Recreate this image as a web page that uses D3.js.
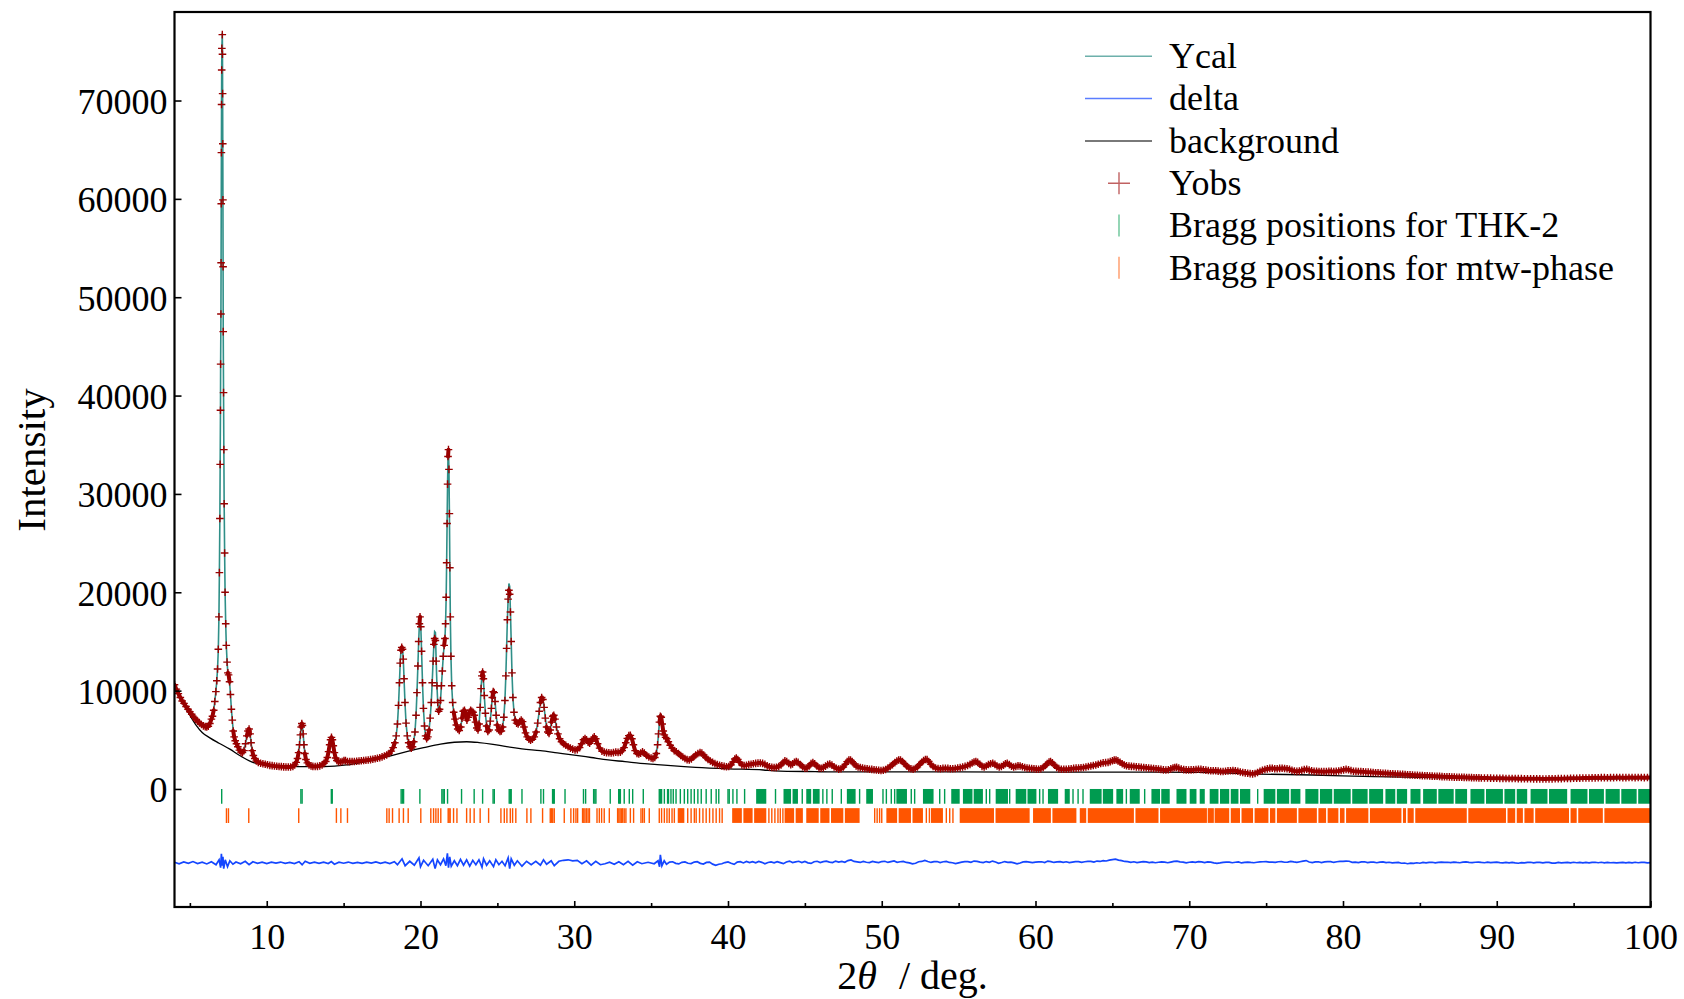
<!DOCTYPE html>
<html>
<head>
<meta charset="utf-8">
<script src="https://cdn.jsdelivr.net/npm/d3@7"></script>
<style>
  body { margin: 0; background: #fff; }
  text { font-family: "Liberation Serif", "Times New Roman", serif; }
</style>
</head>
<body>
<div id="wrapper"></div>
<script>
// ---- data ----
const xDomain = [4, 100]
const yDomain = [-12000, 79000]
const xTicks = [10, 20, 30, 40, 50, 60, 70, 80, 90, 100]
const xMinorTicks = [5, 15, 25, 35, 45, 55, 65, 75, 85, 95]
const yTicks = [0, 10000, 20000, 30000, 40000, 50000, 60000, 70000]

// observed pattern [2theta, counts]
const yobs = [
[4.0,10600],[4.12,10150],[4.25,9700],[4.38,9300],[4.5,8950],[4.62,8700],[4.75,8380],[4.88,8100],[5.0,7850],[5.12,7600],[5.25,7300],[5.38,7100],[5.5,6900],[5.62,6720],[5.75,6550],[5.88,6420],[6.0,6340],[6.1,6300],[6.2,6380],[6.3,6650],[6.4,7100],[6.47,7400],[6.55,8000],[6.62,8900],[6.69,9900],[6.75,11000],[6.8,12200],[6.85,14200],[6.89,17500],[6.92,22000],[6.95,27500],[6.97,33000],[6.99,38500],[7.0,43200],[7.02,48300],[7.03,53500],[7.04,59500],[7.05,64700],[7.06,69600],[7.07,73100],[7.08,75300],[7.11,76700],[7.12,74700],[7.13,70700],[7.14,65600],[7.15,59900],[7.16,53100],[7.17,46500],[7.19,40300],[7.21,34500],[7.23,29000],[7.26,24000],[7.29,20000],[7.33,16800],[7.37,14600],[7.42,12900],[7.47,11800],[7.52,11600],[7.58,10900],[7.64,9600],[7.7,8100],[7.76,7000],[7.82,5900],[7.88,5300],[7.95,4900],[8.03,4600],[8.12,4300],[8.22,3950],[8.32,3750],[8.42,3700],[8.52,3900],[8.62,4600],[8.7,5400],[8.78,5900],[8.85,6100],[8.92,5600],[8.98,4700],[9.05,3900],[9.13,3400],[9.22,3100],[9.32,2850],[9.45,2700],[9.6,2620],[9.75,2560],[9.9,2520],
[10.05,2460],[10.2,2400],[10.35,2370],[10.5,2330],[10.65,2310],[10.8,2290],[10.95,2270],[11.1,2250],[11.25,2240],[11.4,2230],[11.55,2240],[11.7,2300],[11.82,2450],[11.92,2700],[12.0,3100],[12.07,3700],[12.13,4500],[12.19,5500],[12.24,6300],[12.28,6650],[12.32,6450],[12.37,5600],[12.42,4500],[12.48,3600],[12.55,3000],[12.64,2650],[12.75,2450],[12.88,2350],[13.0,2300],[13.15,2280],[13.3,2300],[13.45,2350],[13.6,2450],[13.72,2600],[13.84,2800],[13.94,3200],[14.02,3800],[14.09,4500],[14.15,5000],[14.21,5250],[14.27,5000],[14.33,4400],[14.4,3700],[14.48,3150],[14.56,2900],[14.66,2780],[14.78,2750],[14.9,2800],[15.02,2900],[15.12,2880],[15.25,2800],[15.4,2780],[15.55,2790],[15.7,2800],[15.85,2820],[16.0,2850],[16.15,2870],[16.3,2900],[16.45,2920],[16.6,2950],[16.75,2980],[16.9,3020],[17.05,3070],[17.2,3120],[17.35,3180],[17.5,3260],[17.65,3350],[17.8,3450],[17.95,3600],[18.1,3850],[18.22,4200],[18.33,4700],[18.42,5400],[18.5,6600],[18.57,8500],[18.63,10800],[18.68,12800],[18.73,14100],[18.78,14400],[18.83,14200],[18.88,13200],[18.93,11200],[18.99,8800],[19.06,6700],[19.14,5400],[19.23,4700],[19.32,4300],[19.4,4150],[19.48,4300],[19.56,4800],[19.64,5800],[19.71,7500],[19.77,9800],[19.83,12500],[19.88,15000],[19.93,16800],[19.97,17500],
[20.02,16500],[20.07,14000],[20.13,10800],[20.19,8200],[20.26,6400],[20.33,5400],[20.4,5100],[20.48,5300],[20.56,6000],[20.63,7200],[20.7,8800],[20.76,10800],[20.82,13000],[20.87,14700],[20.92,15300],[20.97,15100],[21.02,13000],[21.07,10500],[21.12,8800],[21.18,7900],[21.24,8100],[21.3,9000],[21.36,10500],[21.42,12000],[21.48,13500],[21.54,14600],[21.59,15300],[21.63,16800],[21.67,19500],[21.7,23000],[21.73,27000],[21.76,31000],[21.79,33800],[21.82,34500],[21.85,32500],[21.88,28000],[21.91,22500],[21.94,17500],[21.98,13500],[22.03,10500],[22.09,8800],[22.16,7800],[22.24,7100],[22.33,6500],[22.42,6100],[22.52,5950],[22.62,6300],[22.7,7200],[22.78,7900],[22.86,8000],[22.94,7600],[23.02,7000],[23.1,7300],[23.18,7800],[23.26,8000],[23.34,7900],[23.42,7800],[23.5,7500],[23.58,6800],[23.66,6200],[23.74,6000],[23.81,6600],[23.88,8300],[23.94,10200],[23.99,11500],[24.04,11900],[24.09,11200],[24.15,9500],[24.22,7700],[24.3,6400],[24.38,5850],[24.46,6000],[24.54,6900],[24.61,8200],[24.67,9300],[24.73,9900],[24.79,9800],[24.85,8900],[24.92,7500],[25.0,6500],[25.08,6000],[25.17,5850],[25.26,5900],[25.34,6300],[25.42,7300],[25.49,9000],[25.55,11500],[25.6,14300],[25.65,17200],[25.7,19300],[25.75,20200],[25.8,19800],[25.85,18000],[25.9,15000],[25.95,11800],
[26.01,9300],[26.08,7800],[26.16,7000],[26.25,6700],[26.35,6600],[26.45,6850],[26.55,7000],[26.64,6850],[26.73,6300],[26.83,5700],[26.94,5300],[27.05,5050],[27.16,4950],[27.28,5050],[27.4,5300],[27.52,5800],[27.62,6700],[27.72,7900],[27.8,8800],[27.88,9300],[27.96,9100],[28.04,8300],[28.12,7200],[28.2,6300],[28.28,5800],[28.36,5650],[28.44,6000],[28.52,6800],[28.6,7400],[28.67,7500],[28.75,7100],[28.84,6300],[28.94,5600],[29.05,5100],[29.17,4800],[29.3,4600],[29.45,4450],[29.6,4300],[29.75,4150],[29.9,4050],[30.05,3980],[30.2,4000],[30.35,4200],[30.48,4600],[30.6,5000],[30.7,5130],[30.8,5000],[30.9,4750],[31.0,4650],[31.1,4850],[31.2,5150],[31.3,5300],[31.4,5100],[31.52,4600],[31.65,4150],[31.8,3850],[31.95,3750],[32.1,3700],[32.25,3680],[32.4,3660],[32.55,3700],[32.7,3750],[32.85,3720],[33.0,3750],[33.12,3900],[33.24,4200],[33.35,4700],[33.45,5150],[33.55,5420],[33.65,5450],[33.75,5100],[33.85,4500],[33.96,3900],[34.08,3600],[34.2,3550],[34.32,3650],[34.44,3780],[34.56,3650],[34.7,3400],[34.85,3250],[35.0,3150],[35.12,3100],[35.24,3200],[35.34,3600],[35.42,4500],[35.48,5600],[35.54,6800],[35.6,7400],[35.66,7300],[35.72,6600],[35.79,5900],[35.86,5500],[35.94,5250],
[36.02,5100],[36.12,4800],[36.24,4450],[36.36,4150],[36.5,3900],[36.64,3780],[36.78,3600],[36.92,3400],[37.06,3250],[37.2,3100],[37.34,2980],[37.48,2950],[37.62,3050],[37.76,3250],[37.9,3450],[38.04,3600],[38.18,3700],[38.3,3650],[38.42,3450],[38.56,3200],[38.7,3000],[38.85,2850],[39.0,2700],[39.15,2580],[39.3,2480],[39.45,2420],[39.6,2350],[39.75,2300],[39.9,2260],[40.05,2280],[40.2,2450],[40.33,2750],[40.44,3050],[40.54,3150],[40.64,3000],[40.76,2700],[40.9,2450],[41.05,2380],[41.2,2420],[41.35,2480],[41.5,2520],[41.65,2560],[41.8,2600],[41.95,2630],[42.1,2640],[42.25,2600],[42.4,2500],[42.55,2350],[42.7,2250],[42.85,2200],[43.0,2180],[43.15,2200],[43.3,2280],[43.45,2450],[43.58,2680],[43.7,2860],[43.82,2800],[43.95,2600],[44.08,2470],[44.2,2550],[44.32,2720],[44.44,2780],[44.56,2700],[44.7,2480],[44.85,2270],[45.0,2120],[45.14,2150],[45.28,2350],[45.4,2580],[45.52,2690],[45.64,2560],[45.78,2330],[45.92,2150],[46.06,2100],[46.2,2170],[46.34,2320],[46.48,2480],[46.62,2540],[46.76,2430],[46.9,2250],[47.05,2100],[47.2,2020],[47.35,2050],[47.5,2230],[47.63,2500],[47.75,2780],[47.86,2930],[47.97,2950],[48.08,2780],[48.2,2550],[48.33,2350],[48.46,2230],[48.6,2180],[48.75,2120],[48.9,2080],
[49.05,2050],[49.2,2010],[49.35,1990],[49.5,1960],[49.65,1930],[49.8,1900],[49.95,1880],[50.1,1900],[50.25,1980],[50.4,2120],[50.55,2300],[50.7,2480],[50.85,2680],[50.98,2850],[51.1,2940],[51.22,2950],[51.35,2800],[51.48,2560],[51.62,2330],[51.76,2150],[51.9,2050],[52.04,2010],[52.18,2080],[52.32,2250],[52.46,2480],[52.6,2720],[52.72,2900],[52.84,3000],[52.95,2980],[53.06,2800],[53.2,2500],[53.34,2280],[53.5,2140],[53.66,2080],[53.82,2060],[53.98,2090],[54.14,2110],[54.3,2090],[54.46,2060],[54.62,2050],[54.78,2080],[54.94,2130],[55.1,2170],[55.26,2230],[55.42,2300],[55.58,2380],[55.74,2500],[55.88,2640],[56.0,2740],[56.12,2790],[56.24,2700],[56.38,2520],[56.52,2300],[56.66,2230],[56.8,2340],[56.94,2490],[57.08,2570],[57.22,2610],[57.36,2500],[57.5,2330],[57.64,2230],[57.78,2280],[57.92,2430],[58.04,2560],[58.16,2610],[58.3,2480],[58.44,2310],[58.58,2230],[58.72,2280],[58.86,2350],[59.0,2340],[59.15,2260],[59.3,2190],[59.45,2140],[59.6,2100],[59.75,2080],[59.9,2050],[60.05,2020],[60.2,2000],[60.35,2050],[60.5,2180],[60.64,2380],[60.76,2580],[60.88,2740],[60.98,2790],[61.1,2650],[61.24,2420],[61.38,2200],[61.52,2070],[61.68,2010],[61.84,2000],
[62.0,2010],[62.16,2030],[62.32,2060],[62.48,2090],[62.64,2120],[62.8,2130],[62.96,2160],[63.12,2190],[63.28,2240],[63.44,2290],[63.6,2340],[63.76,2390],[63.92,2440],[64.08,2510],[64.24,2590],[64.4,2650],[64.56,2680],[64.72,2700],[64.86,2780],[65.0,2870],[65.12,2930],[65.24,2950],[65.36,2860],[65.5,2720],[65.64,2560],[65.78,2440],[65.92,2360],[66.08,2320],[66.24,2300],[66.4,2280],[66.56,2250],[66.72,2230],[66.88,2200],[67.04,2180],[67.2,2160],[67.36,2130],[67.52,2110],[67.68,2080],[67.84,2060],[68.0,2030],[68.16,1990],[68.32,1940],[68.48,1930],[68.64,1960],[68.8,2040],[68.94,2130],[69.06,2190],[69.18,2200],[69.32,2120],[69.48,2030],[69.64,1970],[69.8,1940],[69.96,1930],[70.12,1940],[70.28,1960],[70.44,1980],[70.6,2000],[70.76,1990],[70.92,1950],[71.08,1920],[71.24,1880],[71.4,1860],[71.56,1850],[71.72,1850],[71.88,1820],[72.04,1780],[72.2,1770],[72.36,1800],[72.52,1840],[72.68,1850],[72.84,1870],[73.0,1850],[73.16,1800],[73.32,1730],[73.48,1680],[73.64,1640],[73.8,1600],[73.96,1560],[74.12,1540],[74.28,1580],[74.44,1680],[74.6,1800],[74.76,1900],[74.92,1980],[75.08,2040],[75.24,2090],[75.4,2100],[75.56,2060],[75.72,2050],[75.88,2090],[76.04,2100],[76.2,2080],[76.36,2060],[76.52,2000],[76.68,1900],[76.84,1830],[77.0,1790],[77.16,1820],[77.32,1900],[77.48,1970],[77.64,2000],[77.8,1920],[77.96,1850],
[78.12,1810],[78.28,1790],[78.44,1780],[78.6,1770],[78.76,1760],[78.92,1770],[79.08,1790],[79.24,1790],[79.4,1770],[79.56,1790],[79.72,1830],[79.88,1880],[80.04,1940],[80.2,1990],[80.36,1960],[80.52,1870],[80.68,1810],[80.84,1790],[81.0,1770],[81.16,1760],[81.32,1740],[81.48,1720],[81.64,1710],[81.8,1690],[81.96,1670],[82.12,1650],[82.28,1640],[82.44,1620],[82.6,1600],[82.76,1590],[82.92,1570],[83.08,1550],[83.24,1540],[83.4,1520],[83.56,1510],[83.72,1500],[83.88,1480],[84.04,1460],[84.2,1450],[84.36,1430],[84.52,1420],[84.68,1400],[84.84,1390],[85.0,1370],[85.16,1360],[85.32,1350],[85.48,1340],[85.64,1320],[85.8,1310],[85.96,1300],[86.12,1290],[86.28,1280],[86.44,1260],[86.6,1250],[86.76,1240],[86.92,1230],[87.08,1220],[87.24,1210],[87.4,1200],[87.56,1190],[87.72,1190],[87.88,1180],[88.04,1170],[88.2,1160],[88.36,1150],[88.52,1140],[88.68,1140],[88.84,1130],[89.0,1120],[89.2,1110],[89.4,1110],[89.6,1100],[89.8,1090],[90.0,1090],[90.2,1080],[90.4,1080],[90.6,1070],[90.8,1070],[91.0,1060],[91.2,1060],[91.4,1050],[91.6,1050],[91.8,1040],[92.0,1040],[92.2,1040],[92.4,1030],[92.6,1030],[92.8,1030],[93.0,1020],[93.2,1020],[93.4,1030],[93.6,1030],[93.8,1040],[94.0,1050],[94.2,1050],[94.4,1060],[94.6,1070],[94.8,1080],[95.0,1090],[95.2,1090],[95.4,1100],[95.6,1110],[95.8,1110],[96.0,1120],[96.2,1130],[96.4,1130],[96.6,1140],[96.8,1150],[97.0,1150],[97.2,1140],[97.4,1150],[97.6,1150],[97.8,1160],[98.0,1160],[98.2,1150],[98.4,1150],[98.6,1160],[98.8,1160],[99.0,1150],[99.2,1160],[99.4,1160],[99.6,1150],[99.8,1160],[100.0,1160]
]

// calculated curve where it departs visibly from the observed points
const ycalPeaks = [[7.11,76900],[19.97,17700],[20.92,16000],[20.97,15900],[21.82,34300],[25.75,20900],[25.8,20600],[35.6,7600]]

// refined background [2theta, counts]
const background = [
[4.0,10450],[4.5,8900],[5.0,7500],[5.4,6500],[5.8,5750],[6.3,5200],[6.9,4650],[7.6,4050],[8.3,3350],[9.2,2650],[10.5,2350],[12.0,2280],[13.7,2270],[15.2,2440],[16.0,2650],[17.0,2950],[18.0,3350],[19.1,3790],[20.2,4200],[21.3,4570],[22.2,4750],[23.0,4800],[23.8,4720],[24.6,4570],[25.6,4300],[26.6,4080],[27.8,3890],[28.9,3670],[30.0,3450],[31.1,3200],[32.2,2950],[33.3,2780],[34.3,2610],[35.4,2480],[36.5,2340],[37.9,2200],[40.0,2050],[42.3,1930],[43.0,1850],[45.7,1760],[46.5,1740],[50.0,1740],[55.0,1730],[60.0,1720],[65.0,1710],[70.5,1690],[74.5,1520],[78.0,1420],[82.0,1250],[86.0,1150],[90.0,1000],[95.0,1000],[100.0,1050]
]

// difference Yobs - Ycal [2theta, counts]
const delta = [
[4.0,50],[4.3,-100],[4.6,80],[4.9,-60],[5.2,120],[5.5,-80],[5.8,60],[6.1,-120],[6.4,100],[6.7,-200],[6.9,300],[7.0,-500],[7.05,900],[7.1,-300],[7.15,600],[7.2,-600],[7.3,300],[7.45,-400],[7.6,200],[7.8,-150],[8.0,80],[8.3,-100],[8.6,150],[8.85,-200],[9.1,100],[9.4,-60],[9.7,50],[10.0,-80],[10.3,60],[10.6,-40],[10.9,70],[11.2,-60],[11.5,40],[11.8,-80],[12.1,100],[12.3,-200],[12.5,150],[12.8,-60],[13.1,50],[13.4,-70],[13.7,60],[14.0,-80],[14.2,120],[14.4,-150],[14.7,60],[15.0,-50],[15.3,70],[15.6,-60],[15.9,40],[16.2,-70],[16.5,60],[16.8,-40],[17.1,80],[17.4,-60],[17.7,50],[18.0,-80],[18.3,100],[18.5,-200],[18.8,400],[19.0,-300],[19.3,150],[19.6,-250],[19.9,500],[20.0,-400],[20.2,250],[20.5,-300],[20.8,350],[20.95,-600],[21.1,300],[21.3,-200],[21.5,400],[21.65,-300],[21.75,950],[21.82,-500],[21.9,600],[22.0,-350],[22.2,200],[22.4,-300],[22.6,350],[22.8,-250],[23.0,300],[23.2,-350],[23.4,250],[23.6,-200],[23.8,300],[24.0,-450],[24.1,400],[24.3,-250],[24.5,200],[24.75,-400],[24.9,300],[25.1,-200],[25.3,150],[25.5,-300],[25.7,500],[25.8,-600],[25.9,400],[26.1,-250],[26.3,200],[26.6,-350],[26.9,150],[27.2,-200],[27.5,150],[27.8,-250],[28.0,300],[28.2,-150],[28.5,200],[28.7,-300],[29.0,150],[29.3,250],[29.6,300],[29.9,200],[30.2,250],[30.5,-100],[30.8,200],[31.1,-250],[31.4,150],[31.7,-200],[32.0,-100],[32.3,50],[32.6,-150],[32.9,100],[33.2,-200],[33.5,150],[33.8,-250],[34.1,100],[34.4,-100],[34.8,50],[35.2,-100],[35.45,200],[35.55,-400],[35.6,800],[35.7,-300],[35.85,200],[36.0,-150],
[36.2,60],[36.4,100],[36.6,-60],[36.8,-120],[37.0,40],[37.2,90],[37.4,-50],[37.6,-80],[37.8,70],[38.0,110],[38.2,-60],[38.4,-130],[38.6,30],[38.8,60],[39.0,-140],[39.2,-260],[39.4,-150],[39.6,-100],[39.8,20],[40.0,80],[40.2,-60],[40.4,-170],[40.6,60],[40.8,110],[41.0,-20],[41.2,130],[41.4,20],[41.6,110],[41.8,-10],[42.0,140],[42.2,40],[42.4,-110],[42.6,20],[42.8,90],[43.0,-10],[43.2,110],[43.4,10],[43.6,-90],[43.8,80],[44.0,170],[44.2,20],[44.4,90],[44.6,150],[44.8,10],[45.0,130],[45.2,-10],[45.4,-70],[45.6,100],[45.8,150],[46.0,20],[46.2,110],[46.4,160],[46.6,60],[46.8,20],[47.0,170],[47.2,70],[47.4,140],[47.6,40],[47.8,220],[48.0,290],[48.2,130],[48.4,90],[48.6,30],[48.8,140],[49.0,50],[49.2,20],[49.4,130],[49.6,70],[49.8,10],[50.0,120],[50.2,150],[50.4,30],[50.6,110],[50.8,180],[51.0,50],[51.2,100],[51.4,140],[51.6,30],[51.8,-10],[52.0,-120],[52.2,-50],[52.4,100],[52.6,130],[52.8,230],[53.0,120],[53.2,30],[53.4,110],[53.6,120],[53.8,20],[54.0,100],[54.2,130],[54.4,30],[54.6,0],[54.8,-90],[55.0,-10],[55.2,70],[55.4,110],[55.6,120],[55.8,40],[56.0,170],[56.2,130],[56.4,60],[56.6,20],[56.8,120],[57.0,50],[57.2,170],[57.4,80],[57.6,-60],[57.8,20],[58.0,120],[58.2,40],[58.4,70],[58.6,-10],[58.8,-110],[59.0,-30],[59.2,80],[59.4,110],[59.6,60],[59.8,10],[60.0,70],[60.2,90],[60.4,100],[60.6,20],[60.8,170],[61.0,120],[61.2,30],[61.4,90],[61.6,120],[61.8,40],[62.0,100],[62.2,20],[62.4,70],[62.6,110],[62.8,120],[63.0,40],[63.2,100],[63.4,130],[63.6,140],[63.8,60],[64.0,170],[64.2,130],[64.4,220],[64.6,180],[64.8,270],[65.0,320],[65.2,370],[65.4,270],[65.6,210],[65.8,130],[66.0,110],[66.2,40],[66.4,100],[66.6,20],[66.8,70],[67.0,110],[67.2,90],[67.4,10],[67.6,70],[67.8,0],[68.0,50],[68.2,90],[68.4,70],[68.6,0],[68.8,70],[69.0,140],[69.2,170],[69.4,90],[69.6,60],[69.8,-10],[70.0,50],[70.2,80],[70.4,40],[70.6,110],[70.8,90],[71.0,10],[71.2,80],[71.4,60],[71.6,-10],[71.8,-60],[72.0,-20],[72.2,40],[72.4,60],[72.6,70],[72.8,0],[73.0,50],[73.2,80],[73.4,-20],[73.6,40],[73.8,70],[74.0,30],[74.2,0],[74.4,50],[74.6,80],[74.8,100],[75.0,120],[75.2,60],[75.4,70],[75.6,30],[75.8,100],[76.0,110],[76.2,50],[76.4,70],[76.6,140],[76.8,80],[77.0,30],[77.2,100],[77.4,170],[77.6,220],[77.8,80],[78.0,10],[78.2,80],[78.4,100],[78.6,20],[78.8,80],[79.0,110],[79.2,120],[79.4,30],[79.6,100],[79.8,130],[80.0,140],[80.2,170],[80.4,150],[80.6,40],[80.8,70],[81.0,20],[81.2,90],[81.4,100],[81.6,10],[81.8,70],[82.0,60],[82.2,0],[82.4,70],[82.6,80],[82.8,10],[83.0,50],[83.2,-10],[83.4,20],[83.6,40],[83.8,-50],[84.0,-30],[84.2,-100],[84.4,-40],[84.6,-70],[84.8,0],[85.0,-50],[85.2,30],[85.4,-20],[85.6,40],[85.8,50],[86.0,-10],[86.2,40],[86.4,70],[86.6,40],[86.8,50],[87.0,10],[87.2,70],[87.4,30],[87.6,0],[87.8,60],[88.0,80],[88.2,40],[88.4,10],[88.6,50],[88.8,70],[89.0,30],[89.2,0],[89.4,60],[89.6,10],[89.8,40],[90.0,60],[90.2,10],[90.4,-20],[90.6,30],[90.8,-20],[91.0,40],[91.2,-10],[91.4,-50],[91.6,10],[91.8,-20],[92.0,40],[92.2,50],[92.4,-10],[92.6,30],[92.8,40],[93.0,-20],[93.2,30],[93.4,40],[93.6,-30],[93.8,-40],[94.0,30],[94.2,-10],[94.4,20],[94.6,40],[94.8,-20],[95.0,50],[95.2,0],[95.4,40],[95.6,-20],[95.8,30],[96.0,-20],[96.2,40],[96.4,50],[96.6,0],[96.8,50],[97.0,-10],[97.2,40],[97.4,0],[97.6,20],[97.8,-10],[98.0,20],[98.2,40],[98.4,-10],[98.6,40],[98.8,-10],[99.0,50],[99.2,0],[99.4,30],[99.6,40],[99.8,-10],[100.0,20]
]
const deltaOffset = -7500

// Bragg reflections: single positions and ranges where they merge
const thkTicks = [7.07,12.22,12.3,14.2,14.26,18.74,18.82,18.9,19.96,21.39,21.47,21.55,21.76,22.67,23.49,24.04,24.72,24.8,25.77,25.84,25.9,26.6,27.83,28.0,28.59,28.65,28.7,29.4,30.6,30.74,31.26,31.34,31.41,32.34,32.89,32.95,33.0,33.25,33.58,33.8,34.49,35.53,35.6,35.68,35.86,36.07,36.13,36.29,36.44,36.62,36.9,37.16,37.38,37.6,37.81,38.04,38.26,38.58,38.91,39.23,39.4,40.0,40.08,40.32,40.58,41.08,43.09,44.83,46.17,46.43,46.78,47.37,48.56,50.08,50.3,50.62,50.84,51.92,52.14,53.77,54.09,56.8,57.02,58.32,60.27,60.49,62.44,62.77,63.09,65.91,67.1,74.45]
const thkBands = [[41.83,42.49],[43.61,44.1],[44.2,44.55],[45.09,45.41],[45.52,45.96],[47.73,48.3],[48.99,49.43],[50.95,51.64],[52.68,53.37],[54.52,55.07],[55.28,55.9],[55.98,56.58],[57.41,58.21],[58.71,59.4],[59.48,60.06],[60.81,61.47],[61.9,62.23],[63.53,64.3],[64.38,65.05],[65.26,65.7],[66.13,66.78],[67.54,68.1],[68.18,68.73],[69.17,69.82],[70.03,70.47],[70.68,71.01],[71.33,71.9],[72.0,72.6],[72.7,73.2],[73.3,73.97],[74.84,75.6],[75.7,76.5],[76.6,77.23],[77.55,78.4],[78.5,79.3],[79.4,80.5],[80.6,81.6],[81.7,82.61],[82.76,83.4],[83.5,84.17],[84.39,85.04],[85.21,86.1],[86.2,87.2],[87.3,88.07],[88.29,89.2],[89.3,90.4],[90.5,91.2],[91.3,91.98],[92.2,93.3],[93.4,94.58],[94.8,95.9],[96.0,96.97],[97.08,98.0],[98.1,99.1],[99.2,100]]
const mtwTicks = [7.38,7.51,8.83,12.08,14.53,14.82,15.25,17.81,17.96,18.18,18.61,18.89,19.2,20.02,20.67,20.85,21.0,21.15,21.32,21.8,21.86,21.93,22.15,22.37,23.0,23.23,23.49,23.88,24.43,25.23,25.45,25.62,25.84,25.99,26.2,26.92,27.18,27.94,28.44,28.52,28.6,28.7,29.35,29.78,29.96,30.11,30.22,30.54,30.62,30.7,30.8,30.9,30.99,31.48,31.63,31.78,31.95,32.28,32.82,32.9,32.98,33.06,33.15,33.25,33.36,33.65,33.86,34.34,34.45,34.56,34.88,35.53,35.68,35.86,36.03,36.18,36.36,36.51,37.38,37.6,37.81,37.93,38.15,38.37,38.58,38.8,39.02,39.23,39.45,39.62,42.66,42.85,43.05,43.25,43.4,43.57,49.54,49.7,49.86,50.0,52.9,53.1,54.2,54.42,54.63]
const mtwBands = [[36.73,37.16],[40.27,40.9],[41.0,41.6],[41.7,42.49],[43.68,44.3],[44.4,44.87],[45.09,45.9],[46.0,46.6],[46.7,47.5],[47.6,48.56],[50.3,51.0],[51.1,51.9],[52.0,52.68],[53.2,53.98],[55.07,57.3],[57.4,59.62],[59.84,61.0],[61.1,62.66],[62.88,63.3],[63.4,66.4],[66.5,68.0],[68.1,71.15],[71.2,71.6],[71.65,72.6],[72.7,73.3],[73.4,74.15],[74.25,75.15],[75.25,75.6],[75.7,77.0],[77.1,78.3],[78.4,78.9],[79.0,79.7],[79.8,80.1],[80.2,81.65],[81.75,83.8],[83.9,84.1],[84.2,84.6],[84.7,88.05],[88.15,90.6],[90.7,91.2],[91.3,91.7],[91.8,92.4],[92.5,94.7],[94.8,95.2],[95.3,96.9],[97.0,100]]

const legendLabels = ["Ycal", "delta", "background", "Yobs", "Bragg positions for THK-2", "Bragg positions for mtw-phase"]

// ---- layout ----
const width = 1684, height = 999
const plot = {left: 174.5, right: 1650.5, top: 12, bottom: 907}
const thkRow = [0, -1500]
const mtwRow = [-1950, -3450]

const colors = {
    ycal: "#2f8f88",
    delta: "#1446ff",
    bg: "#000000",
    obs: "#990000",
    thk: "#009b50",
    mtw: "#ff5500"
}

const x = d3.scaleLinear().domain(xDomain).range([plot.left, plot.right])
const y = d3.scaleLinear().domain(yDomain).range([plot.bottom, plot.top])

const svg = d3.select("#wrapper").append("svg")
    .attr("width", width)
    .attr("height", height)
    .style("display", "block")
    .style("background", "#fff")

svg.append("clipPath").attr("id", "clip")
    .append("rect")
    .attr("x", plot.left).attr("y", plot.top)
    .attr("width", plot.right - plot.left).attr("height", plot.bottom - plot.top)

const area = svg.append("g").attr("clip-path", "url(#clip)")

const line = d3.line().x(d => x(d[0])).y(d => y(d[1]))

// background
area.append("path")
    .datum(background)
    .attr("d", d3.line().curve(d3.curveMonotoneX).x(d => x(d[0])).y(d => y(d[1])))
    .attr("fill", "none")
    .attr("stroke", colors.bg)
    .attr("stroke-width", 1.3)

// Ycal
const calcMap = new Map(ycalPeaks)
const ycal = yobs.map(d => [d[0], calcMap.has(d[0]) ? calcMap.get(d[0]) : d[1]])
area.append("path")
    .datum(ycal)
    .attr("d", line)
    .attr("fill", "none")
    .attr("stroke", colors.ycal)
    .attr("stroke-width", 1.6)

// Yobs: where crosses sit closer than their own size they merge into a band
let smear = ""
for (let i = 1; i < yobs.length; i++) {
    const x0 = x(yobs[i - 1][0]), y0 = y(yobs[i - 1][1])
    const x1 = x(yobs[i][0]), y1 = y(yobs[i][1])
    if (Math.hypot(x1 - x0, y1 - y0) < 7) smear += `M${x0},${y0}L${x1},${y1}`
}
area.append("path")
    .attr("d", smear)
    .attr("fill", "none")
    .attr("stroke", colors.obs)
    .attr("stroke-width", 4)
    .attr("stroke-linecap", "round")

const s = 3.8
area.append("g")
    .attr("stroke", colors.obs)
    .attr("stroke-width", 1.4)
    .attr("fill", "none")
    .selectAll("path")
    .data(yobs)
    .join("path")
    .attr("d", d => `M${x(d[0]) - s},${y(d[1])}h${2 * s}M${x(d[0])},${y(d[1]) - s}v${2 * s}`)

// delta
area.append("path")
    .datum(delta)
    .attr("d", d3.line().x(d => x(d[0])).y(d => y(deltaOffset + d[1])))
    .attr("fill", "none")
    .attr("stroke", colors.delta)
    .attr("stroke-width", 1.7)

// Bragg positions
function braggRow(ticks, bands, row, color) {
    const gr = area.append("g")
    gr.selectAll("line")
        .data(ticks)
        .join("line")
        .attr("x1", d => x(d)).attr("x2", d => x(d))
        .attr("y1", y(row[0])).attr("y2", y(row[1]))
        .attr("stroke", color)
        .attr("stroke-width", 1.4)
    gr.selectAll("rect")
        .data(bands)
        .join("rect")
        .attr("x", d => x(d[0]))
        .attr("width", d => x(d[1]) - x(d[0]))
        .attr("y", y(row[0]))
        .attr("height", y(row[1]) - y(row[0]))
        .attr("fill", color)
}
braggRow(thkTicks, thkBands, thkRow, colors.thk)
braggRow(mtwTicks, mtwBands, mtwRow, colors.mtw)

// axes
const fontFamily = '"Liberation Serif", "Times New Roman", serif'

const yAxis = svg.append("g")
    .attr("transform", `translate(${plot.left},0)`)
    .call(d3.axisLeft(y).tickValues(yTicks).tickSizeInner(-7).tickSizeOuter(0).tickPadding(7).tickFormat(d3.format("d")))
yAxis.select(".domain").remove()
yAxis.selectAll("line").attr("stroke", "#000").attr("stroke-width", 1.6)
yAxis.selectAll("text")
    .attr("font-family", fontFamily)
    .attr("font-size", 36)
    .attr("fill", "#000")
    .attr("dy", "0.36em")

const xAxis = svg.append("g")
    .attr("transform", `translate(0,${plot.bottom})`)
    .call(d3.axisBottom(x).tickValues(xTicks).tickSizeInner(-6).tickSizeOuter(0).tickFormat(d3.format("d")))
xAxis.select(".domain").remove()
xAxis.selectAll("line").attr("stroke", "#000").attr("stroke-width", 1.6)
xAxis.selectAll("text")
    .attr("font-family", fontFamily)
    .attr("font-size", 36)
    .attr("fill", "#000")
    .attr("y", 42)
    .attr("dy", 0)

const xMinor = svg.append("g")
    .attr("transform", `translate(0,${plot.bottom})`)
    .call(d3.axisBottom(x).tickValues(xMinorTicks).tickSizeInner(-4).tickSizeOuter(0).tickFormat(""))
xMinor.select(".domain").remove()
xMinor.selectAll("line").attr("stroke", "#000").attr("stroke-width", 1.6)

// frame
svg.append("rect")
    .attr("x", plot.left).attr("y", plot.top)
    .attr("width", plot.right - plot.left).attr("height", plot.bottom - plot.top)
    .attr("fill", "none")
    .attr("stroke", "#000")
    .attr("stroke-width", 2.2)

// axis titles
svg.append("text")
    .attr("transform", `translate(45,460) rotate(-90)`)
    .attr("text-anchor", "middle")
    .attr("font-size", 41)
    .text("Intensity")

const xt = svg.append("text")
    .attr("x", (plot.left + plot.right) / 2)
    .attr("y", 989)
    .attr("text-anchor", "middle")
    .attr("font-size", 40)
xt.append("tspan").text("2")
xt.append("tspan").attr("font-style", "italic").text("θ")
xt.append("tspan").attr("dx", 22).text("/ deg.")

// legend
const legend = svg.append("g").attr("transform", "translate(1085,68)")
const rowH = 42.3
const lg = legend.selectAll("g")
    .data(legendLabels)
    .join("g")
    .attr("transform", (d, i) => `translate(0,${i * rowH})`)

lg.append("text")
    .attr("x", 84)
    .attr("font-size", 36)
    .text(d => d)

lg.each(function (d, i) {
    const g = d3.select(this)
    const mid = -11.7
    if (i < 3) {
        g.append("line")
            .attr("x1", 0).attr("x2", 67)
            .attr("y1", mid).attr("y2", mid)
            .attr("stroke", [colors.ycal, colors.delta, colors.bg][i])
            .attr("stroke-opacity", 0.7)
            .attr("stroke-width", 1.5)
    } else if (i === 3) {
        g.append("path")
            .attr("d", `M23,${mid}h22M34,${mid - 11}v22`)
            .attr("stroke", "#b03a3a")
            .attr("stroke-opacity", 0.8)
            .attr("stroke-width", 1.4)
    } else {
        g.append("line")
            .attr("x1", 34).attr("x2", 34)
            .attr("y1", mid - 11).attr("y2", mid + 11)
            .attr("stroke", i === 4 ? colors.thk : colors.mtw)
            .attr("stroke-opacity", 0.6)
            .attr("stroke-width", 1.4)
    }
})
</script>
</body>
</html>
